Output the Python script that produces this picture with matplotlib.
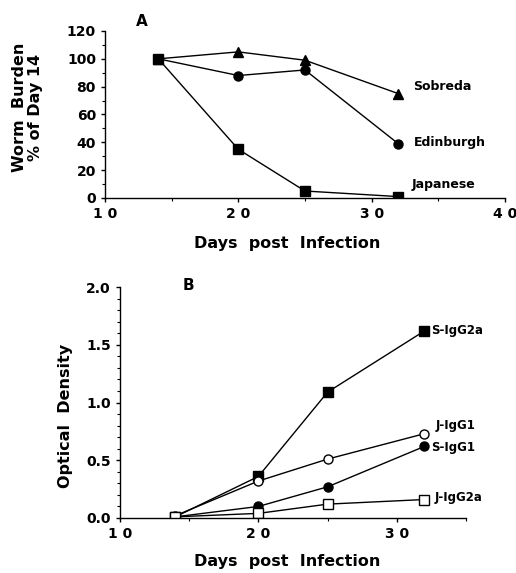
import matplotlib
matplotlib.use("Agg")
import matplotlib.pyplot as plt
from matplotlib.ticker import MultipleLocator

plt.rcParams['font.family'] = ['DejaVu Sans']
plt.rcParams['font.weight'] = 'bold'

# ---------- data ----------
days = [14, 20, 25, 32]

# panel A - worm burden, % of day 14
sobreda = [100, 105, 99, 75]
edinburgh = [100, 88, 92, 39]
japanese = [100, 35, 5, 1]

# panel B - optical density
s_igg2a = [0.01, 0.36, 1.09, 1.62]
j_igg1 = [0.02, 0.32, 0.51, 0.73]
s_igg1 = [0.01, 0.10, 0.27, 0.62]
j_igg2a = [0.01, 0.04, 0.12, 0.16]

xticks_a = [10, 20, 30, 40]
xticks_b = [10, 20, 30]


def spaced(v):
    return ' '.join(str(v))


fig = plt.figure(figsize=(5.16, 5.73), dpi=100)

# ---------- panel A ----------
ax1 = fig.add_axes([0.2035, 0.6545, 0.775, 0.2914])
kw = dict(color='black', lw=1.0)
ax1.plot(days, sobreda, marker='^', ms=7, **kw)
ax1.plot(days, edinburgh, marker='o', ms=6.5, **kw)
ax1.plot(days, japanese, marker='s', ms=6.5, **kw)

ax1.set_xlim(10, 40)
ax1.set_ylim(0, 120)
ax1.set_xticks(xticks_a)
ax1.set_xticklabels([spaced(t) for t in xticks_a])
ax1.set_yticks(range(0, 121, 20))
ax1.xaxis.set_minor_locator(MultipleLocator(5))
ax1.yaxis.set_minor_locator(MultipleLocator(10))
ax1.set_xlabel('Days  post  Infection', fontsize=11.5, fontweight='bold')
ax1.xaxis.set_label_coords(0.455, -0.23)
ax1.set_ylabel('Worm  Burden\n% of Day 14', fontsize=11.5, fontweight='bold',
               linespacing=1.05)
ax1.yaxis.set_label_coords(-0.155, 0.54)
ax1.text(0.077, 1.03, 'A', transform=ax1.transAxes, fontsize=11, fontweight='bold')

ax1.text(33.1, 80, 'Sobreda', fontsize=9, fontweight='bold', va='center')
ax1.text(33.2, 40, 'Edinburgh', fontsize=9, fontweight='bold', va='center')
ax1.text(33.0, 10, 'Japanese', fontsize=9, fontweight='bold', va='center')

# ---------- panel B ----------
ax2 = fig.add_axes([0.2326, 0.096, 0.6705, 0.4031])
ax2.plot(days, s_igg2a, marker='s', ms=6.5, mfc='black', **kw)
ax2.plot(days, j_igg1, marker='o', ms=6.5, mfc='white', **kw)
ax2.plot(days, s_igg1, marker='o', ms=6.5, mfc='black', **kw)
ax2.plot(days, j_igg2a, marker='s', ms=6.5, mfc='white', **kw)

ax2.set_xlim(10, 35)
ax2.set_ylim(0, 2.0)
ax2.set_xticks(xticks_b)
ax2.set_xticklabels([spaced(t) for t in xticks_b])
ax2.set_yticks([0.0, 0.5, 1.0, 1.5, 2.0])
ax2.set_yticklabels(['0.0', '0.5', '1.0', '1.5', '2.0'])
ax2.xaxis.set_minor_locator(MultipleLocator(5))
ax2.yaxis.set_minor_locator(MultipleLocator(0.1))
ax2.set_xlabel('Days  post  Infection', fontsize=11.5, fontweight='bold')
ax2.xaxis.set_label_coords(0.483, -0.155)
ax2.set_ylabel('Optical  Density', fontsize=11.5, fontweight='bold')
ax2.yaxis.set_label_coords(-0.135, 0.44)
ax2.text(0.18, 0.985, 'B', transform=ax2.transAxes, fontsize=11, fontweight='bold')

ax2.text(32.45, 1.62, 'S-IgG2a', fontsize=8.5, fontweight='bold', va='center')
ax2.text(32.8, 0.80, 'J-IgG1', fontsize=8.5, fontweight='bold', va='center')
ax2.text(32.45, 0.61, 'S-IgG1', fontsize=8.5, fontweight='bold', va='center')
ax2.text(32.7, 0.18, 'J-IgG2a', fontsize=8.5, fontweight='bold', va='center')

for ax in (ax1, ax2):
    for s in ('top', 'right'):
        ax.spines[s].set_visible(False)
    for s in ('left', 'bottom'):
        ax.spines[s].set_linewidth(1.0)
    ax.tick_params(which='major', length=3, width=1, labelsize=10, direction='out')
    ax.tick_params(which='minor', length=2, width=0.8, direction='out')
    for lbl in ax.get_xticklabels() + ax.get_yticklabels():
        lbl.set_fontweight('bold')

fig.savefig('out.png', dpi=100)
